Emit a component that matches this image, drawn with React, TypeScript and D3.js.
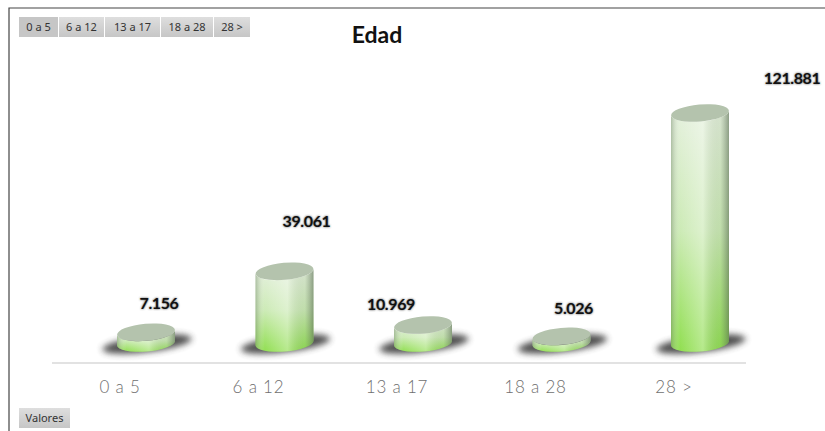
import React from "react";
import * as d3 from "d3";

const categories = ["0 a 5", "6 a 12", "13 a 17", "18 a 28", "28 >"];
const values = [7156, 39061, 10969, 5026, 121881];
const valueLabels = ["7.156", "39.061", "10.969", "5.026", "121.881"];
const labelDx = [13, 22, -32, 12, 92];
const labelY = [309, 227, 310, 314, 84];
const filterNames = ["0 a 5", "6 a 12", "13 a 17", "18 a 28", "28 >"];
const filterEdges = [19, 59, 105, 161, 214, 251];

const W = 825, H = 431;
const x = d3.scalePoint<string>().domain(categories).range([146, 700]);
const y = d3.scaleLinear().domain([0, 121881]).range([346, 113]);
const RX = 29, RY = 8.5, TILT = -5;
const BASE = 343;
const CATEGORY_SHIFT = -26;

function cylinder(cx: number, top: number) {
  const dy = RX * Math.sin((TILT * Math.PI) / 180);
  const l = cx - RX, r = cx + RX;
  return `M${l},${top - dy} L${l},${BASE - dy} A${RX},${RY} ${TILT} 0 0 ${r},${BASE + dy} L${r},${top + dy} A${RX},${RY} ${TILT} 0 1 ${l},${top - dy} Z`;
}

export default function App() {
  return (
    <svg width={W} height={H} viewBox={`0 0 ${W} ${H}`} style={{ position: "absolute", left: 0, top: 0, background: "#fff" }}>
      <defs>
        <linearGradient id="green" x1="0" y1="0" x2="0" y2="1">
          <stop offset="0" stopColor="#e4f0dc" />
          <stop offset="0.5" stopColor="#cbeab4" />
          <stop offset="1" stopColor="#8ede4c" />
        </linearGradient>
        <linearGradient id="side" x1="0" y1="0" x2="1" y2="0">
          <stop offset="0" stopColor="#6f8368" stopOpacity="0.45" />
          <stop offset="0.16" stopColor="#ffffff" stopOpacity="0.03" />
          <stop offset="0.55" stopColor="#ffffff" stopOpacity="0.35" />
          <stop offset="0.85" stopColor="#6f8368" stopOpacity="0.12" />
          <stop offset="1" stopColor="#55684f" stopOpacity="0.6" />
        </linearGradient>
        <linearGradient id="btn" x1="0" y1="0" x2="0" y2="1">
          <stop offset="0" stopColor="#dedede" />
          <stop offset="1" stopColor="#c6c6c6" />
        </linearGradient>
        <filter id="blur" x="-30%" y="-100%" width="160%" height="300%">
          <feGaussianBlur stdDeviation="3" />
        </filter>
        <filter id="txt" x="-20%" y="-40%" width="140%" height="180%">
          <feGaussianBlur stdDeviation="0.9" />
        </filter>
      </defs>

      <path d={`M9,${H} V8 H${W}`} fill="none" stroke="#444" strokeWidth={1.2} />

      {filterNames.map((n, i) => (
        <g key={n}>
          <rect x={filterEdges[i]} y={17} width={filterEdges[i + 1] - filterEdges[i] - 1} height={20} fill={i === 0 ? "#c6c6c6" : "url(#btn)"} />
          <text x={(filterEdges[i] + filterEdges[i + 1] - 1) / 2} y={31} textAnchor="middle" fontFamily="'Noto Sans', sans-serif" fontSize={11} fill="#333">{n}</text>
        </g>
      ))}
      <rect x={19} y={408} width={51} height={20} fill="url(#btn)" />
      <text x={44.5} y={422} textAnchor="middle" fontFamily="'Noto Sans', sans-serif" fontSize={11} fill="#333">Valores</text>

      <text x={377} y={43} textAnchor="middle" fontFamily="Lato, sans-serif" fontWeight={700} fontSize={23} fill="#111">Edad</text>

      <line x1={52} x2={746} y1={363} y2={363} stroke="#e2e2e2" strokeWidth={2} />

      {categories.map((c, i) => {
        const cx = x(c)!;
        const top = y(values[i]);
        return (
          <g key={c}>
            <ellipse cx={cx + 1} cy={344} rx={45} ry={8} transform={`rotate(-7 ${cx + 1} 344)`} fill="#3c3c3c" filter="url(#blur)" opacity={0.9} />
            <path d={cylinder(cx, top)} fill="url(#green)" />
            <path d={cylinder(cx, top)} fill="url(#side)" />
            <ellipse cx={cx} cy={top} rx={RX} ry={RY} transform={`rotate(${TILT} ${cx} ${top})`} fill="#b4c3ad" />
            <text x={cx + CATEGORY_SHIFT} y={393} textAnchor="middle" fontFamily="Lato, sans-serif" fontWeight={300} fontSize={17} letterSpacing={0.8} fill="#6f6f6f">{c}</text>
            <text x={cx + labelDx[i]} y={labelY[i]} textAnchor="middle" fontFamily="Lato, sans-serif" fontWeight={700} fontSize={16} letterSpacing={-0.4} fill="#555" filter="url(#txt)">{valueLabels[i]}</text>
            <text x={cx + labelDx[i]} y={labelY[i]} textAnchor="middle" fontFamily="Lato, sans-serif" fontWeight={700} fontSize={16} letterSpacing={-0.4} fill="#111">{valueLabels[i]}</text>
          </g>
        );
      })}
    </svg>
  );
}
